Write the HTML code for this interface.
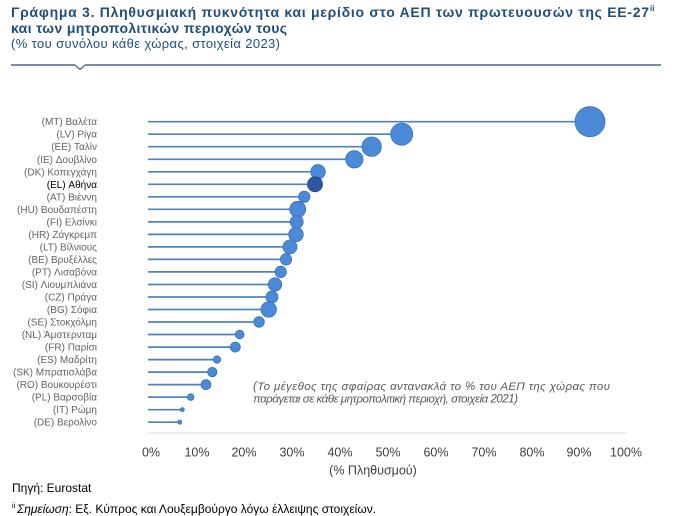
<!DOCTYPE html>
<html>
<head>
<meta charset="utf-8">
<style>
  html, body { margin: 0; padding: 0; background: #ffffff; }
  body { width: 700px; height: 516px; overflow: hidden; }
  svg { display: block; }
  text { font-family: "Liberation Sans", "DejaVu Sans", sans-serif; }
</style>
</head>
<body>
<svg width="700" height="516" viewBox="0 0 700 516" xmlns="http://www.w3.org/2000/svg">
  <rect width="700" height="516" fill="#ffffff"/>

  <!-- Title -->
  <text x="11" y="17" font-size="14" font-weight="bold" fill="#1f4e7c" textLength="638" lengthAdjust="spacing">Γράφημα 3. Πληθυσμιακή πυκνότητα και μερίδιο στο ΑΕΠ των πρωτευουσών της ΕΕ-27</text>
  <text x="650" y="11" font-size="8" font-weight="bold" fill="#1f4e7c">ii</text>
  <text x="11" y="33" font-size="14" font-weight="bold" fill="#1f4e7c" textLength="276" lengthAdjust="spacing">και των μητροπολιτικών περιοχών τους</text>
  <text x="11" y="48" font-size="13" fill="#1f4e7c" textLength="269" lengthAdjust="spacing">(% του συνόλου κάθε χώρας, στοιχεία 2023)</text>

  <!-- Separator -->
  <line x1="11" y1="65" x2="75" y2="65" stroke="#4d6682" stroke-width="1.5"/>
  <line x1="85" y1="65" x2="661" y2="65" stroke="#4d6682" stroke-width="1.5"/>
  <polyline points="75,65 80,69.5 85,65" fill="none" stroke="#4d6682" stroke-width="1.3"/>

  <!-- X axis -->
  <line x1="148" y1="433" x2="627" y2="433" stroke="#d9d9d9" stroke-width="1"/>

  <!-- Tick labels -->
  <g font-size="12.5" fill="#404040" text-anchor="middle">
    <text x="151" y="456.5">0%</text>
    <text x="197" y="456.5">10%</text>
    <text x="244" y="456.5">20%</text>
    <text x="292" y="456.5">30%</text>
    <text x="340" y="456.5">40%</text>
    <text x="388" y="456.5">50%</text>
    <text x="436" y="456.5">60%</text>
    <text x="484" y="456.5">70%</text>
    <text x="532" y="456.5">80%</text>
    <text x="579" y="456.5">90%</text>
    <text x="626" y="456.5">100%</text>
  </g>
  <text x="373" y="474.5" font-size="12.5" fill="#404040" text-anchor="middle">(% Πληθυσμού)</text>

  <!-- Lollipop lines -->
  <g stroke="#4f82c0" stroke-width="1.7">
    <line x1="148" y1="121.7" x2="590" y2="121.7"/>
    <line x1="148" y1="134.2" x2="401.7" y2="134.2"/>
    <line x1="148" y1="146.7" x2="371.7" y2="146.7"/>
    <line x1="148" y1="159.3" x2="354.3" y2="159.3"/>
    <line x1="148" y1="171.8" x2="318" y2="171.8"/>
    <line x1="148" y1="184.3" x2="315" y2="184.3"/>
    <line x1="148" y1="196.8" x2="304.3" y2="196.8"/>
    <line x1="148" y1="209.3" x2="297.7" y2="209.3"/>
    <line x1="148" y1="221.9" x2="296.7" y2="221.9"/>
    <line x1="148" y1="234.4" x2="296" y2="234.4"/>
    <line x1="148" y1="246.9" x2="290" y2="246.9"/>
    <line x1="148" y1="259.4" x2="286" y2="259.4"/>
    <line x1="148" y1="271.9" x2="280.7" y2="271.9"/>
    <line x1="148" y1="284.5" x2="275" y2="284.5"/>
    <line x1="148" y1="297.0" x2="272" y2="297.0"/>
    <line x1="148" y1="309.5" x2="268.7" y2="309.5"/>
    <line x1="148" y1="322.0" x2="259" y2="322.0"/>
    <line x1="148" y1="334.5" x2="239.7" y2="334.5"/>
    <line x1="148" y1="347.1" x2="235.3" y2="347.1"/>
    <line x1="148" y1="359.6" x2="217" y2="359.6"/>
    <line x1="148" y1="372.1" x2="212.3" y2="372.1"/>
    <line x1="148" y1="384.6" x2="206" y2="384.6"/>
    <line x1="148" y1="397.1" x2="190.7" y2="397.1"/>
    <line x1="148" y1="409.7" x2="182.3" y2="409.7"/>
    <line x1="148" y1="422.2" x2="179.7" y2="422.2"/>
  </g>

  <!-- Bubbles -->
  <g fill="#4a8ad6" stroke="#3c70b2" stroke-width="0.8">
    <circle cx="590" cy="121.7" r="15"/>
    <circle cx="401.7" cy="134.2" r="11"/>
    <circle cx="371.7" cy="146.7" r="9.7"/>
    <circle cx="354.3" cy="159.3" r="8.7"/>
    <circle cx="318" cy="171.8" r="7.3"/>
    <circle cx="304.3" cy="196.8" r="5.7"/>
    <circle cx="297.7" cy="209.3" r="8"/>
    <circle cx="296.7" cy="221.9" r="6.5"/>
    <circle cx="296" cy="234.4" r="7.3"/>
    <circle cx="290" cy="246.9" r="7"/>
    <circle cx="286" cy="259.4" r="5.7"/>
    <circle cx="280.7" cy="271.9" r="5.7"/>
    <circle cx="275" cy="284.5" r="6.7"/>
    <circle cx="272" cy="297.0" r="6"/>
    <circle cx="268.7" cy="309.5" r="7.7"/>
    <circle cx="259" cy="322.0" r="5.3"/>
    <circle cx="239.7" cy="334.5" r="4.3"/>
    <circle cx="235.3" cy="347.1" r="5"/>
    <circle cx="217" cy="359.6" r="3.7"/>
    <circle cx="212.3" cy="372.1" r="4.7"/>
    <circle cx="206" cy="384.6" r="5"/>
    <circle cx="190.7" cy="397.1" r="3.3"/>
    <circle cx="182.3" cy="409.7" r="2"/>
    <circle cx="179.7" cy="422.2" r="2"/>
  </g>
  <circle cx="315" cy="184.3" r="7.5" fill="#2c569f" stroke="#244789" stroke-width="0.8"/>

  <!-- Category labels -->
  <g font-size="10" fill="#636363" text-anchor="end">
    <text x="97" y="125.2">(MT) Βαλέτα</text>
    <text x="97" y="137.7">(LV) Ρίγα</text>
    <text x="97" y="150.2">(EE) Ταλίν</text>
    <text x="97" y="162.8">(IE) Δουβλίνο</text>
    <text x="97" y="175.3">(DK) Κοπεγχάγη</text>
    <text x="97" y="187.8" fill="#000000">(EL) Αθήνα</text>
    <text x="97" y="200.3">(AT) Βιέννη</text>
    <text x="97" y="212.8">(HU) Βουδαπέστη</text>
    <text x="97" y="225.4">(FI) Ελσίνκι</text>
    <text x="97" y="237.9">(HR) Ζάγκρεμπ</text>
    <text x="97" y="250.4">(LT) Βίλνιους</text>
    <text x="97" y="262.9">(BE) Βρυξέλλες</text>
    <text x="97" y="275.4">(PT) Λισαβόνα</text>
    <text x="97" y="288.0">(SI) Λιουμπλιάνα</text>
    <text x="97" y="300.5">(CZ) Πράγα</text>
    <text x="97" y="313.0">(BG) Σόφια</text>
    <text x="97" y="325.5">(SE) Στοκχόλμη</text>
    <text x="97" y="338.0">(NL) Άμστερνταμ</text>
    <text x="97" y="350.6">(FR) Παρίσι</text>
    <text x="97" y="363.1">(ES) Μαδρίτη</text>
    <text x="97" y="375.6">(SK) Μπρατισλάβα</text>
    <text x="97" y="388.1">(RO) Βουκουρέστι</text>
    <text x="97" y="400.6">(PL) Βαρσοβία</text>
    <text x="97" y="413.2">(IT) Ρώμη</text>
    <text x="97" y="425.7">(DE) Βερολίνο</text>
  </g>

  <!-- Annotation -->
  <g font-size="11.5" font-style="italic" fill="#595959">
    <text x="253" y="390" textLength="357" lengthAdjust="spacing">(Το μέγεθος της σφαίρας αντανακλά το % του ΑΕΠ της χώρας που</text>
    <text x="253" y="402.5" textLength="265" lengthAdjust="spacing">παράγεται σε κάθε μητροπολιτική περιοχή, στοιχεία 2021)</text>
  </g>

  <!-- Footer -->
  <text x="12" y="492" font-size="12" fill="#000000">Πηγή: Eurostat</text>
  <text x="12" y="508" font-size="7.5" fill="#000000">ii</text>
  <text x="17" y="513" font-size="12" fill="#000000"><tspan font-style="italic">Σημείωση</tspan>: Εξ. Κύπρος και Λουξεμβούργο λόγω έλλειψης στοιχείων.</text>
</svg>
</body>
</html>
